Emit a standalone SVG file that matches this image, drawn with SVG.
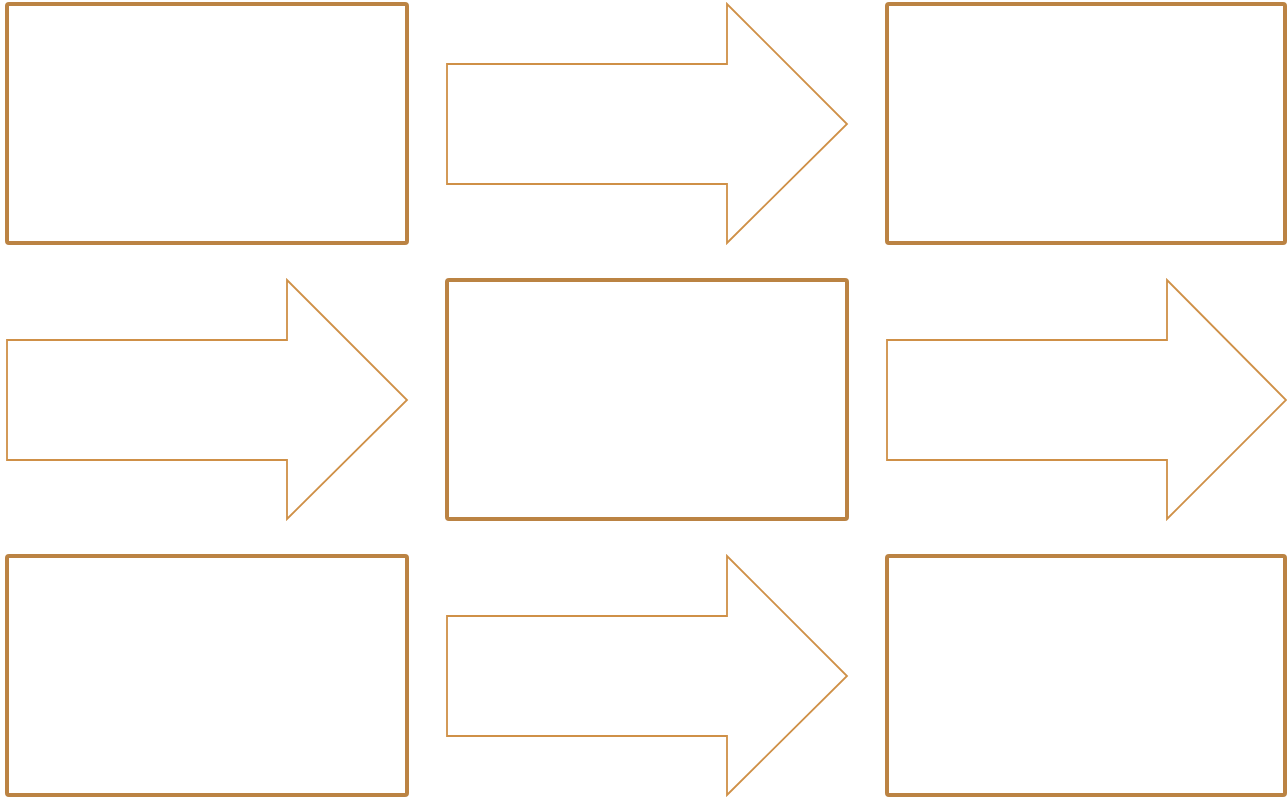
<svg xmlns="http://www.w3.org/2000/svg" width="1287" height="800" viewBox="0 0 1287 800">
<style>
.box{fill:#ffffff;stroke:#bb8343;stroke-width:4}
.arr{fill:#ffffff;stroke:#cf9047;stroke-width:1.8;stroke-linejoin:miter}
</style>
<rect width="1287" height="800" fill="#ffffff"/>
<g id="connectors">
<polygon class="arr" points="447,64 727,64 727,4 847,124 727,243 727,184 447,184"/>
<polygon class="arr" points="7,340 287,340 287,280 407,400 287,519 287,460 7,460"/>
<polygon class="arr" points="887,340 1167,340 1167,280 1286,400 1167,519 1167,460 887,460"/>
<polygon class="arr" points="447,616 727,616 727,556 847,676 727,795 727,736 447,736"/>
</g>
<g id="node-top-left"><rect class="box" x="7" y="4" width="400" height="239" rx="2"/></g>
<g id="node-top-right"><rect class="box" x="887" y="4" width="398" height="239" rx="2"/></g>
<g id="node-center"><rect class="box" x="447" y="280" width="400" height="239" rx="2"/></g>
<g id="node-bottom-left"><rect class="box" x="7" y="556" width="400" height="239" rx="2"/></g>
<g id="node-bottom-right"><rect class="box" x="887" y="556" width="398" height="239" rx="2"/></g>
</svg>
